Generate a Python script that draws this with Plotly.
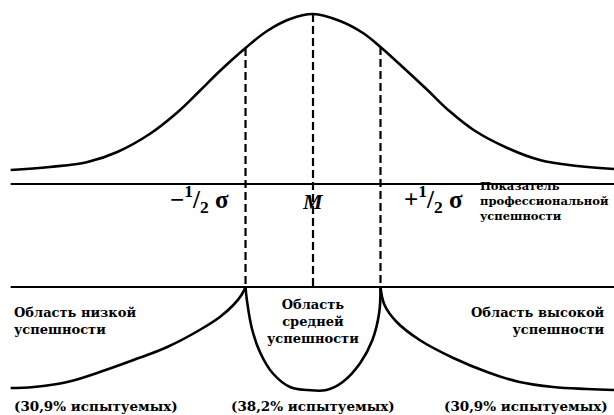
import plotly.graph_objects as go

# верхняя кривая нормального распределения (x в единицах σ от M)
bell_x = [-2.24, -1.95, -1.67, -1.45, -1.21, -1.01, -0.84, -0.69, -0.50, -0.34, -0.17, 0.0,
          0.20, 0.37, 0.50, 0.64, 0.84, 1.01, 1.19, 1.44, 1.68, 1.96, 2.23]
bell_y = [0.14, 0.17, 0.22, 0.32, 0.50, 0.71, 0.93, 1.13, 1.36, 1.53, 1.65, 1.70,
          1.63, 1.51, 1.37, 1.20, 0.95, 0.73, 0.54, 0.36, 0.24, 0.18, 0.15]

# нижняя схема: три области успешности
low_x = [-2.24, -2.07, -1.82, -1.58, -1.33, -1.08, -0.84, -0.69, -0.59, -0.53, -0.50]
low_y = [-2.04, -2.03, -1.98, -1.88, -1.76, -1.63, -1.46, -1.33, -1.21, -1.11, -1.03]

mid_x = [-0.50, -0.49, -0.45, -0.39, -0.30, -0.17, -0.04, 0.10, 0.22, 0.35, 0.44, 0.49, 0.50]
mid_y = [-1.03, -1.16, -1.46, -1.69, -1.89, -2.03, -2.06, -2.06, -1.98, -1.79, -1.56, -1.29, -1.03]

high_x = [0.50, 0.53, 0.62, 0.79, 1.04, 1.29, 1.53, 1.78, 2.03, 2.23]
high_y = [-1.03, -1.21, -1.38, -1.56, -1.74, -1.88, -1.98, -2.03, -2.05, -2.06]

# отметки -1/2σ, M, +1/2σ
marks_x = [-0.5, 0.0, 0.5]
marks_top = [1.36, 1.70, 1.37]
axis_y = 0.0
base_y = -1.03
x_start, x_end = -2.24, 2.23

serif = "DejaVu Serif"
times = "Liberation Serif"

fig = go.Figure()

curve = dict(color="black", width=2.6, shape="spline", smoothing=1.1)
for xs, ys in [(bell_x, bell_y), (low_x, low_y), (mid_x, mid_y), (high_x, high_y)]:
    fig.add_trace(go.Scatter(x=xs, y=ys, mode="lines", line=curve, hoverinfo="skip"))

# горизонтальные линии
for yy in [axis_y, base_y]:
    fig.add_trace(go.Scatter(x=[x_start, x_end], y=[yy, yy], mode="lines",
                             line=dict(color="black", width=2), hoverinfo="skip"))

# пунктирные вертикали
for mx, top in zip(marks_x, marks_top):
    fig.add_trace(go.Scatter(x=[mx, mx], y=[top, base_y], mode="lines",
                             line=dict(color="black", width=2.2, dash="8px,4px"),
                             hoverinfo="skip"))

def label(text, x, y, size, anchor="center", family=serif, align="left"):
    fig.add_annotation(x=x, y=y, text=text, showarrow=False, xanchor=anchor,
                       yanchor="middle", align=align,
                       font=dict(family=family, size=size, color="black", weight="bold"))

label("\u2212<sup>1</sup>/<sub>2</sub> \u03c3", -0.61, -0.15, 25, "right", times)
label("<i>M</i>", 0.0, -0.17, 22, "center", times)
label("+<sup>1</sup>/<sub>2</sub> \u03c3", 0.66, -0.15, 25, "left", times)
label("Показатель<br>профессиональной<br>успешности", 1.22, -0.17, 11.5, "left")

label("Область низкой<br>успешности", -2.23, -1.37, 13, "left")
label("Область<br>средней<br>успешности", 0.0, -1.37, 13, "center", align="center")
label("Область высокой<br>успешности", 2.18, -1.37, 13, "right", align="right")

label("(30,9% испытуемых)", -2.23, -2.22, 13.5, "left")
label("(38,2% испытуемых)", 0.0, -2.22, 13.5, "center")
label("(30,9% испытуемых)", 2.20, -2.22, 13.5, "right")

fig.update_layout(
    width=614, height=415,
    margin=dict(l=0, r=0, t=0, b=0),
    paper_bgcolor="white", plot_bgcolor="white",
    showlegend=False,
    xaxis=dict(range=[-2.319, 2.230], visible=False, fixedrange=True),
    yaxis=dict(range=[-2.31, 1.84], visible=False, fixedrange=True),
)

fig.write_html("out.html", config={"displayModeBar": False},
               post_script="document.body.style.margin='0';document.body.style.overflow='hidden';")
